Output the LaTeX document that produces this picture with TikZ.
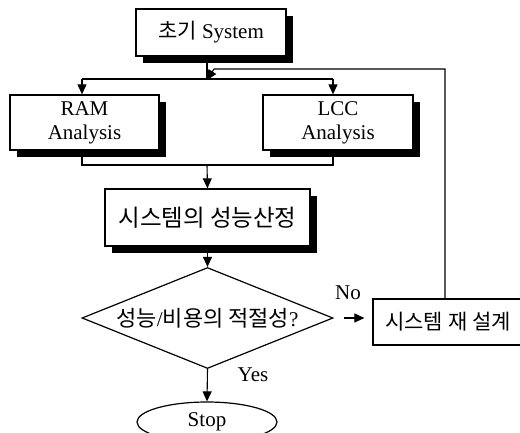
\documentclass[tikz,border=0pt]{standalone}
\usepackage{fontspec}
\setmainfont{Liberation Serif}
\newfontfamily\kr{Noto Sans CJK KR}
\newcommand\krs[2]{{\fontsize{#1}{#1}\selectfont\kr #2}}
\usetikzlibrary{arrows.meta,shapes.geometric,shadows}
\begin{document}
\begin{tikzpicture}[x=1pt,y=-1pt,
  font=\fontsize{21}{24}\selectfont,
  box/.style={draw,line width=1.3pt,fill=white,rectangle,inner sep=0pt,align=center,
    drop shadow={shadow xshift=7pt,shadow yshift=-7pt,fill=black,opacity=1}},
  plainbox/.style={draw,line width=1.2pt,fill=white,rectangle,inner sep=0pt},
  conn/.style={line width=1.1pt},
  arr/.style={conn,-{Triangle[length=10pt,width=9pt]}},
  lbl/.style={inner sep=0pt}]
\useasboundingbox (0,0) rectangle (520,432);
\node[box,minimum width=150pt,minimum height=47pt] (top) at (211,32.5) {\krs{21}{초기} System};
\node[box,minimum width=149pt,minimum height=55pt] (ram) at (84.5,122.5) {RAM\\Analysis};
\node[box,minimum width=150pt,minimum height=55pt] (lcc) at (338,122.5) {LCC\\Analysis};
\node[box,minimum width=205pt,minimum height=57pt] (sw) at (207.5,217.5) {\krs{23.5}{시스템의 성능산정}};
\node[draw,line width=1.2pt,diamond,shape aspect=2.5,inner sep=0pt,minimum width=251pt,minimum height=101pt] (dia) at (207.5,318) {\krs{22}{성능}/\krs{22}{비용의 적절성}?};
\node[plainbox,minimum width=150pt,minimum height=46pt] (re) at (448,322) {\krs{21}{시스템\ 재\ 설계}};
\node[draw,line width=1.2pt,ellipse,inner sep=0pt,minimum width=140pt,minimum height=40pt] (stop) at (207,422) {Stop};
\node[lbl] (no) at (348,293) {No};
\node[lbl] (yes) at (253,375) {Yes};
\coordinate (J) at (207,79);
\coordinate (F) at (214,69);
\coordinate (K) at (207,165);
\coordinate (ramx) at (82,79);
\coordinate (lccx) at (333,79);
\coordinate (fb) at (445,69);
\coordinate (sws) at (207.5,253);
% top to split
\draw[conn] (J |- top.south) -- (J);
\draw[conn] (ramx) -- (lccx);
\draw[arr] (ramx) -- (ramx |- ram.north);
\draw[arr] (lccx) -- (lccx |- lcc.north);
% merge
\draw[conn] (ramx |- ram.south) -- (ramx |- K) -- (lccx |- K) -- (lccx |- lcc.south);
\draw[arr] (K) -- (sw.north);
\draw[arr] (sws) -- (dia.north);
\draw[arr,shorten <=10pt,shorten >=8pt] (dia.east) -- (dia.east -| re.west);
\draw[arr] (dia.south) -- (stop.north);
% feedback
\draw[arr] (fb |- re.north) -- (fb) -- (F) -- ([yshift=-1pt]J);
\end{tikzpicture}
\end{document}
